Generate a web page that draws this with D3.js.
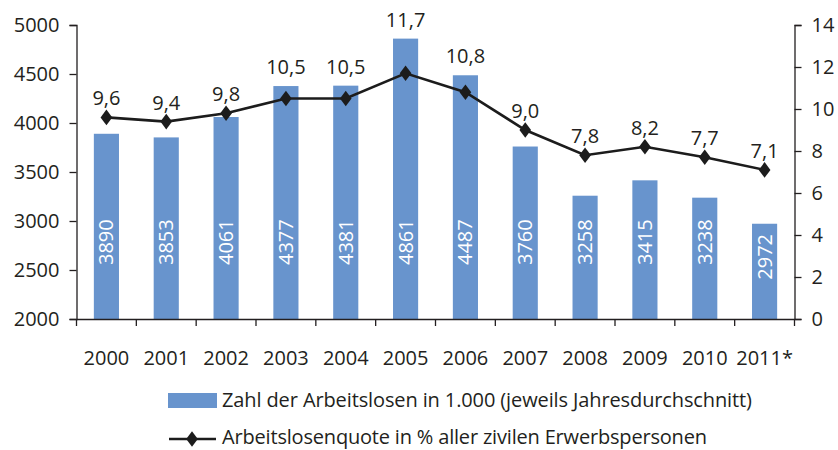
<!DOCTYPE html>
<head>
    <meta charset="utf-8">
    <script src="https://d3js.org/d3.v7.min.js"></script>
    <style type="text/css">
        body { margin: 0; background: #fff; }
        text { font-family: "Open Sans", sans-serif; font-size: 20px; fill: #231f20; }
        .axis path, .axis line { stroke: #231f20; stroke-width: 1.3; }
    </style>
</head>
<body>
<script type="text/javascript">
    // data
    var jahre = ["2000","2001","2002","2003","2004","2005","2006","2007","2008","2009","2010","2011*"],
        arbeitslose = [3890, 3853, 4061, 4377, 4381, 4861, 4487, 3760, 3258, 3415, 3238, 2972],
        quote = [9.6, 9.4, 9.8, 10.5, 10.5, 11.7, 10.8, 9.0, 7.8, 8.2, 7.7, 7.1],
        linksTicks = [2000, 2500, 3000, 3500, 4000, 4500, 5000],
        rechtsTicks = [0, 2, 4, 6, 8, 10, 12, 14],
        legende = ["Zahl der Arbeitslosen in 1.000 (jeweils Jahresdurchschnitt)",
                   "Arbeitslosenquote in % aller zivilen Erwerbspersonen"];
</script>
<script type="text/javascript">
    var w = 838, h = 450,
        mL = 76.5, mR = 794.5, mT = 25, mB = 319;
    var blau = "#6894cd", dunkel = "#1c1c1c";

    var svg = d3.select("body").append("svg")
        .attr("width", w).attr("height", h);

    var x = d3.scaleBand().domain(jahre).range([mL, mR]).paddingInner(0.58).paddingOuter(0.29);
    var xt = d3.scaleBand().domain(jahre).range([mL, mR]);
    var yL = d3.scaleLinear().domain([2000, 5000]).range([mB, mT]);
    var yR = d3.scaleLinear().domain([0, 14]).range([mB, mT]);
    var fmt = function(v) { return d3.format(".1f")(v).replace(".", ","); };

    // bars
    svg.selectAll("rect.bar").data(arbeitslose).enter().append("rect")
        .attr("class", "bar")
        .attr("x", function(d, i) { return x(jahre[i]); })
        .attr("y", function(d) { return yL(d); })
        .attr("width", x.bandwidth())
        .attr("height", function(d) { return mB - yL(d); })
        .attr("fill", blau);

    // bar labels (rotated, white)
    svg.selectAll("text.barlab").data(arbeitslose).enter().append("text")
        .attr("class", "barlab")
        .attr("transform", function(d, i) {
            var cx = x(jahre[i]) + x.bandwidth() / 2 + 7;
            var cy = Math.max(265, yL(d) + 56);
            return "translate(" + cx + "," + cy + ") rotate(-90)";
        })
        .style("fill", "#fff")
        .text(function(d) { return d; });

    // axes
    svg.append("g").attr("class", "axis").attr("transform", "translate(" + mL + ",0)")
        .call(d3.axisLeft(yL).tickValues(linksTicks).tickSize(7).tickPadding(10).tickFormat(d3.format("d")));
    svg.append("g").attr("class", "axis").attr("transform", "translate(" + mR + ",0)")
        .call(d3.axisRight(yR).tickValues(rechtsTicks).tickSize(7).tickPadding(10));
    svg.append("g").attr("class", "axis").attr("transform", "translate(0," + mB + ")")
        .call(d3.axisBottom(xt).tickSize(0).tickPadding(32));
    svg.selectAll(".axis text").style("font-size", "20px").style("fill", "#231f20").style("font-family", "\"Open Sans\", sans-serif");

    // category separators
    svg.selectAll("line.sep").data(jahre.concat([""])).enter().append("line")
        .attr("class", "sep")
        .attr("x1", function(d, i) { return mL + i * xt.step(); })
        .attr("x2", function(d, i) { return mL + i * xt.step(); })
        .attr("y1", mB).attr("y2", mB + 7)
        .attr("stroke", "#231f20").attr("stroke-width", 1.3);

    // line
    var cx = function(i) { return xt(jahre[i]) + xt.bandwidth() / 2; };
    var line = d3.line().x(function(d, i) { return cx(i); }).y(function(d) { return yR(d); });
    svg.append("path").datum(quote)
        .attr("d", line).attr("fill", "none").attr("stroke", dunkel).attr("stroke-width", 2.6);
    var diamond = d3.symbol().type(d3.symbolDiamond).size(70);
    svg.selectAll("path.pt").data(quote).enter().append("path")
        .attr("class", "pt")
        .attr("d", diamond)
        .attr("transform", function(d, i) { return "translate(" + cx(i) + "," + yR(d) + ") scale(1.3,1)"; })
        .attr("fill", dunkel);
    svg.selectAll("text.ptlab").data(quote).enter().append("text")
        .attr("class", "ptlab")
        .attr("x", function(d, i) { return cx(i); })
        .attr("y", function(d, i) { return Math.min(yR(d), yL(arbeitslose[i])) - 12; })
        .attr("text-anchor", "middle")
        .text(fmt);

    // legend
    var lg = svg.append("g");
    lg.append("rect").attr("x", 168).attr("y", 393).attr("width", 49).attr("height", 15).attr("fill", blau);
    lg.append("text").attr("x", 222).attr("y", 407).attr("textLength", 530).text(legende[0]);
    lg.append("line").attr("x1", 169).attr("x2", 216).attr("y1", 439).attr("y2", 439)
        .attr("stroke", dunkel).attr("stroke-width", 2.6);
    lg.append("path").attr("d", diamond).attr("transform", "translate(192,439) scale(1.3,1)").attr("fill", dunkel);
    lg.append("text").attr("x", 222).attr("y", 444).attr("textLength", 485).text(legende[1]);
</script>
</body>
</html>
